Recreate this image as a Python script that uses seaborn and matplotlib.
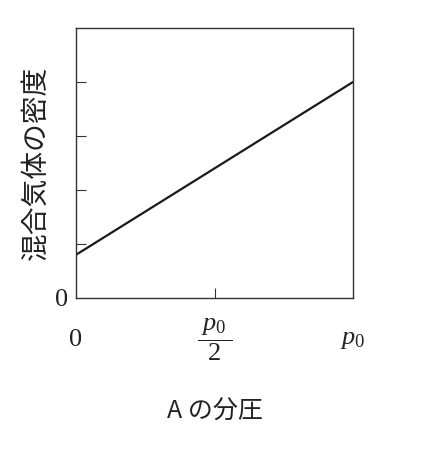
import matplotlib
matplotlib.use("Agg")
import matplotlib.pyplot as plt
import seaborn as sns
import pandas as pd

# --- DADOS DO GRÁFICO ---
pressao_parcial = [0.0, 1.0]          # 0 .. p0
densidade = [0.8, 4.0]                 # densidade relativa (unidades de marcação)
ticks_x = [0.0, 0.5, 1.0]
rotulos_x = ["0", r"$\dfrac{\;p_{\mathrm{0}}\;}{2}$", r"$p_{\mathrm{0}}$"]
ticks_y = [0, 1, 2, 3, 4]
rotulos_y = ["0", "", "", "", ""]
titulo_x = "A の分圧"
titulo_y = "混合気体の密度"

sns.set_theme(style="white")
plt.rcParams['font.family'] = ['Noto Sans CJK JP', 'DejaVu Sans']
plt.rcParams['mathtext.fontset'] = 'custom'
plt.rcParams['mathtext.rm'] = 'Liberation Serif'
plt.rcParams['mathtext.it'] = 'Liberation Serif:italic'

df = pd.DataFrame({"p": pressao_parcial, "rho": densidade})

fig = plt.figure(figsize=(4.45, 4.5), dpi=100)
ax = fig.add_axes([76 / 445, 152 / 450, 277 / 445, 270 / 450])

sns.lineplot(data=df, x="p", y="rho", ax=ax, color="#1a1a1a", linewidth=1.6)

ax.set_xlim(0, 1)
ax.set_ylim(0, 5)

for lado in ax.spines.values():
    lado.set_color("#333333")
    lado.set_linewidth(1.0)

ax.set_xticks(ticks_x)
ax.set_xticklabels(rotulos_x, family="Liberation Serif", fontsize=19,
                   va="center", color="#222222")
ax.set_yticks(ticks_y)
ax.set_yticklabels(rotulos_y, family="Liberation Serif", fontsize=19,
                   color="#222222")
ax.tick_params(axis="x", bottom=True, direction="in", length=7, width=0.8,
               pad=30, color="#333333")
ax.tick_params(axis="y", left=True, direction="in", length=7, width=0.8,
               pad=6, color="#333333")
# a marca em x=0 e x=1 coincide com as bordas; esconde-as
for t in ax.xaxis.get_major_ticks():
    if t.get_loc() in (0.0, 1.0):
        t.tick1line.set_visible(False)
ax.yaxis.get_major_ticks()[0].tick1line.set_visible(False)

ax.set_xlabel(titulo_x, fontsize=18, labelpad=26, color="#222222")
ax.set_ylabel(titulo_y, fontsize=20, labelpad=3, color="#222222")

fig.savefig("out.png", dpi=100)
